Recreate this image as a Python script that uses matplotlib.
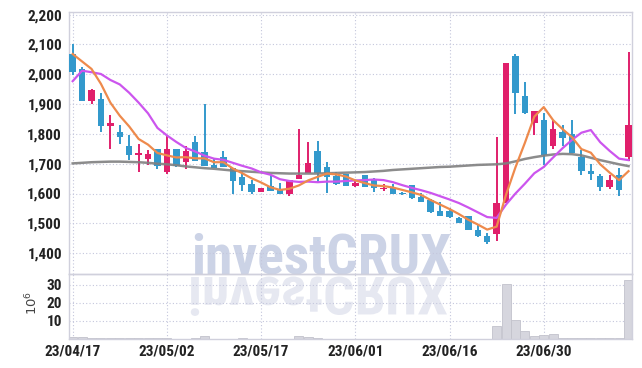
import matplotlib
matplotlib.use("Agg")
import matplotlib.pyplot as plt
from matplotlib.textpath import TextPath
from matplotlib.patches import PathPatch
from matplotlib.font_manager import FontProperties, fontManager
from matplotlib.transforms import Affine2D, IdentityTransform
from matplotlib.ticker import FuncFormatter

# ---------------- data ----------------
tick_labels = ["23/04/17", "23/05/02", "23/05/17", "23/06/01", "23/06/16", "23/06/30"]
tick_index = [0, 10, 20, 30, 40, 50]

opens = [2069, 2017, 1910, 1916, 1826, 1805, 1761, 1730, 1717, 1750,
         1672, 1750, 1707, 1773, 1739, 1696, 1721, 1685, 1654, 1632,
         1606, 1625, 1614, 1597, 1649, 1670, 1741, 1689, 1660, 1666,
         1626, 1662, 1649, 1616, 1619, 1602, 1628, 1588, 1579, 1541,
         1543, 1519, 1523, 1479, 1456, 1465, 1569, 2060, 1926, 1837,
         1846, 1759, 1807, 1801, 1721, 1675, 1659, 1623, 1662, 1721]
highs = [2103, 2025, 1951, 1938, 1865, 1831, 1798, 1767, 1745, 1750,
         1795, 1750, 1758, 1794, 1902, 1717, 1741, 1685, 1673, 1645,
         1619, 1661, 1634, 1645, 1815, 1773, 1775, 1707, 1673, 1666,
         1645, 1662, 1652, 1632, 1632, 1606, 1630, 1603, 1582, 1571,
         1551, 1521, 1526, 1493, 1468, 1790, 2038, 2067, 1974, 1876,
         1870, 1846, 1829, 1848, 1745, 1698, 1665, 1662, 1684, 2074]
lows = [1998, 1910, 1901, 1806, 1750, 1765, 1712, 1672, 1697, 1683,
        1666, 1690, 1682, 1709, 1694, 1687, 1690, 1600, 1609, 1597,
        1604, 1608, 1600, 1593, 1649, 1668, 1640, 1603, 1630, 1626,
        1622, 1623, 1606, 1609, 1600, 1596, 1582, 1571, 1534, 1524,
        1517, 1501, 1476, 1454, 1431, 1440, 1569, 1866, 1866, 1798,
        1695, 1751, 1759, 1737, 1662, 1645, 1610, 1615, 1593, 1710]
closes = [2008, 1910, 1946, 1826, 1835, 1790, 1728, 1736, 1731, 1694,
          1750, 1694, 1743, 1709, 1694, 1687, 1690, 1642, 1629, 1606,
          1619, 1608, 1600, 1645, 1662, 1704, 1668, 1656, 1632, 1626,
          1636, 1623, 1620, 1620, 1600, 1598, 1584, 1571, 1538, 1524,
          1521, 1501, 1476, 1459, 1439, 1568, 2038, 1937, 1870, 1876,
          1729, 1818, 1787, 1737, 1676, 1666, 1623, 1647, 1612, 1829]
ma5 = [2068, 2043, 2018, 1968, 1905, 1861, 1825, 1783, 1764, 1736,
       1728, 1721, 1722, 1718, 1718, 1705, 1705, 1684, 1668, 1651,
       1637, 1621, 1612, 1616, 1627, 1644, 1656, 1667, 1664, 1657,
       1644, 1635, 1627, 1625, 1620, 1612, 1604, 1595, 1578, 1563,
       1548, 1531, 1512, 1496, 1479, 1489, 1596, 1688, 1770, 1858,
       1890, 1846, 1816, 1789, 1749, 1737, 1698, 1670, 1645, 1675]
ma10 = [1977, 2012, 2007, 2001, 1981, 1966, 1938, 1905, 1869, 1820,
        1795, 1773, 1753, 1741, 1727, 1717, 1713, 1703, 1693, 1684,
        1671, 1663, 1648, 1642, 1639, 1640, 1638, 1640, 1640, 1642,
        1644, 1645, 1647, 1645, 1638, 1628, 1619, 1611, 1602, 1591,
        1580, 1568, 1553, 1537, 1521, 1518, 1563, 1600, 1633, 1668,
        1689, 1721, 1752, 1780, 1804, 1813, 1772, 1743, 1717, 1712]
ma_long = [1701, 1703, 1705, 1706, 1707, 1707, 1706, 1705, 1703, 1700,
           1698, 1695, 1691, 1688, 1685, 1683, 1680, 1677, 1675, 1673,
           1671, 1669, 1668, 1667, 1667, 1667, 1667, 1668, 1669, 1670,
           1671, 1672, 1674, 1676, 1679, 1681, 1683, 1685, 1687, 1689,
           1690, 1692, 1694, 1696, 1697, 1698, 1701, 1708, 1716, 1722,
           1727, 1731, 1733, 1732, 1728, 1720, 1712, 1705, 1698, 1692]
volume_m = [1.3, 1.3, 0.4, 0.8, 0.3, 0.3, 0.3, 0.3, 0.3, 0.3,
            0.3, 0.2, 0.2, 0.3, 1.5, 0.2, 0.2, 0.2, 0.5, 0.2,
            0.2, 0.2, 0.2, 0.2, 1.6, 1.2, 0.6, 0.2, 0.1, 0.1,
            0.1, 0.1, 0.1, 0.1, 0.1, 0.1, 0.1, 0.1, 0.1, 0.1,
            0.1, 0.1, 0.1, 0.1, 0.2, 7.2, 30.4, 10.6, 4.4, 1.7,
            2.2, 2.8, 0.5, 0.5, 0.5, 0.5, 0.5, 0.5, 0.5, 32.8]
price_ticks = [1400, 1500, 1600, 1700, 1800, 1900, 2000, 2100, 2200]
volume_ticks = [10, 20, 30]
watermark = "investCRUX"

# ---------------- style ----------------
W, H = 642, 368
UP = "#e01f6b"
DOWN = "#3399cc"
GRID = "#c4c6dc"
SPINE = "#d0d0dc"

installed = {f.name for f in fontManager.ttflist}
narrow = None
for cand in ["Liberation Sans Narrow", "Roboto Condensed", "Open Sans Condensed",
             "Noto Sans Condensed", "DejaVu Sans Condensed"]:
    if cand in installed:
        narrow = cand
        break
if narrow is None:
    narrow = "Liberation Sans"
FONT = [narrow, "DejaVu Sans"]
tick_size = 11 if narrow != "Liberation Sans" else 10

fig = plt.figure(figsize=(W / 100, H / 100), dpi=100)
fig.patch.set_facecolor("white")
left, right = 69, 632
ptop, pbot, vbot = 11.7, 274, 339
ax = fig.add_axes([left / W, 1 - pbot / H, (right - left) / W, (pbot - ptop) / H])
axv = fig.add_axes([left / W, 1 - vbot / H, (right - left) / W, (vbot - pbot) / H], sharex=ax)
for a in (ax, axv):
    a.set_facecolor("none")
    for s in a.spines.values():
        s.set_color(SPINE)
        s.set_linewidth(1.0)
    a.grid(True, linestyle=(0, (1, 2)), color=GRID, linewidth=0.8)
    a.set_axisbelow(True)
    a.tick_params(length=0)

x = list(range(len(closes)))

# watermark text (behind everything) and its faint mirror image
wm_fp = FontProperties(family=FONT, weight="bold")
wm_cap_px = 40.0
wm_base = 273
wm_center = 319
tp = TextPath((0, 0), watermark, size=100, prop=wm_fp)
ext = tp.get_extents()
cap = TextPath((0, 0), "CRUX", size=100, prop=wm_fp).get_extents().ymax
scale = wm_cap_px / cap          # px per path unit
size_px = 100 * scale
wm_width = ext.width * scale
wm_left = wm_center - wm_width / 2
fig.text(wm_left / W, 1 - wm_base / H, watermark, fontproperties=wm_fp,
         fontsize=size_px * 72 / 100, color="#ccd3e6", ha="left", va="baseline", zorder=-5)
t_refl = Affine2D().translate(-ext.xmin, 0).scale(scale, -scale * 0.95).translate(wm_left, H - wm_base - 4)
p2 = PathPatch(t_refl.transform_path(tp), facecolor="#e6e8f1", edgecolor="none",
               transform=IdentityTransform(), zorder=-5)
fig.patches.append(p2)

# candles
for i in x:
    o, h, l, c = opens[i], highs[i], lows[i], closes[i]
    col = UP if c >= o else DOWN
    ax.vlines(i, l, h, color=col, linewidth=1.4, zorder=2)
    body = max(abs(c - o), 3)
    ax.bar(i, body, bottom=min(o, c), width=0.68, color=col, zorder=3, linewidth=0)

ax.plot(x, ma_long, color="#808080", linewidth=1.8, alpha=0.9, zorder=4)
ax.plot(x, ma10, color="#cc55ee", linewidth=1.6, zorder=5)
ax.plot(x, ma5, color="#ee8a4c", linewidth=1.6, zorder=6)

ax.set_xlim(-0.39, 59.37)
ax.set_ylim(1330, 2210)
ax.set_yticks(price_ticks)
ax.yaxis.set_major_formatter(FuncFormatter(lambda v, p: f"{int(v):,}"))
ax.set_xticks(tick_index)
plt.setp(ax.get_xticklabels(), visible=False)
for lab in ax.get_yticklabels():
    lab.set_fontfamily(FONT)
    lab.set_fontweight("bold")
    lab.set_fontsize(tick_size)
    lab.set_color("#222222")
ax.tick_params(axis="y", pad=5)

# volume
axv.bar(x, volume_m, width=0.96, color="#d6d6de", edgecolor="#c2c2cc", linewidth=0.6, zorder=2)
axv.set_ylim(0, 36.1)
axv.set_yticks(volume_ticks)
axv.set_xticks(tick_index)
axv.set_xticklabels(tick_labels)
for lab in axv.get_yticklabels() + axv.get_xticklabels():
    lab.set_fontfamily(FONT)
    lab.set_fontweight("bold")
    lab.set_fontsize(tick_size)
    lab.set_color("#222222")
axv.tick_params(axis="y", pad=5)
axv.tick_params(axis="x", pad=4)
fig.text(32.5 / W, 1 - 303 / H, r"$10^6$", rotation=90, ha="center", va="center",
         fontsize=9.5, color="#444444")

fig.savefig("out.png", dpi=100)
